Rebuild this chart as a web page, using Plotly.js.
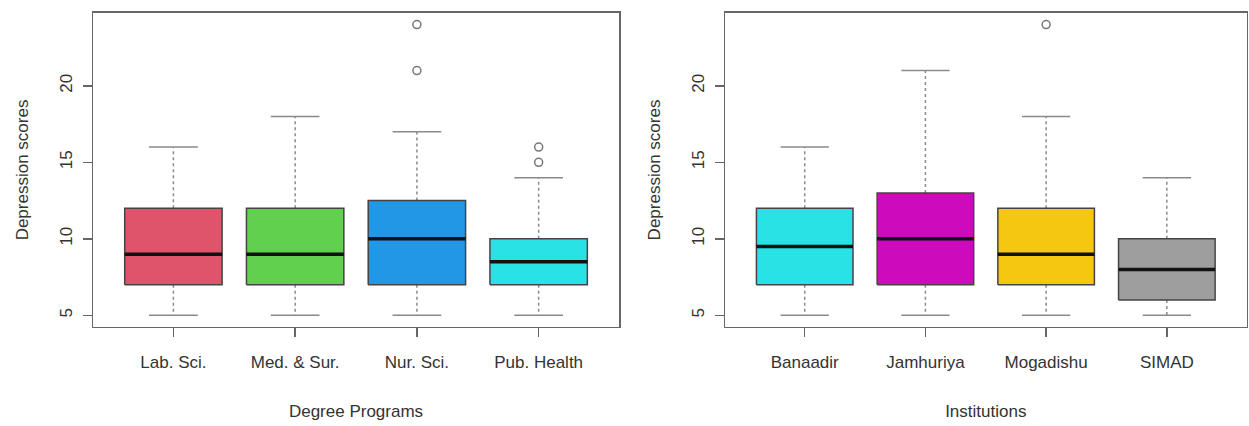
<!DOCTYPE html>
<html>
<head>
<meta charset="utf-8">
<script src="https://cdn.plot.ly/plotly-3.0.1.min.js"></script>
<style>html,body{margin:0;padding:0;background:#fff}#chart{width:1249px;height:426px}</style>
</head>
<body>
<div id="chart"></div>
<script>
// Left panel: Degree Programs
const programs = ["Lab. Sci.", "Med. & Sur.", "Nur. Sci.", "Pub. Health"];
const progMin = [5, 5, 5, 5];
const progQ1 = [7, 7, 7, 7];
const progMedian = [9, 9, 10, 8.5];
const progQ3 = [12, 12, 12.5, 10];
const progMax = [16, 18, 17, 14];
const progOutliers = [[], [], [21, 24], [15, 16]];
const progColors = ["#DF536B", "#61D04F", "#2297E6", "#28E2E5"];

// Right panel: Institutions
const institutions = ["Banaadir", "Jamhuriya", "Mogadishu", "SIMAD"];
const instMin = [5, 5, 5, 5];
const instQ1 = [7, 7, 7, 6];
const instMedian = [9.5, 10, 9, 8];
const instQ3 = [12, 13, 12, 10];
const instMax = [16, 21, 18, 14];
const instOutliers = [[], [], [24], []];
const instColors = ["#28E2E5", "#CD0BBC", "#F5C710", "#9E9E9E"];

const yTicks = [5, 10, 15, 20];

const HALF = 0.4, CAP = 0.2;
const traces = [];
function addBoxes(cats, mn, q1, md, q3, mx, outs, cols, xa, ya) {
  cats.forEach((c, k) => {
    const i = k + 1;
    // whiskers (dashed)
    traces.push({type: "scatter", mode: "lines", xaxis: xa, yaxis: ya, showlegend: false, hoverinfo: "skip",
      x: [i, i, null, i, i], y: [q3[k], mx[k], null, q1[k], mn[k]],
      line: {color: "#8a8a8a", width: 1.5, dash: "3px,3px"}});
    // caps
    traces.push({type: "scatter", mode: "lines", xaxis: xa, yaxis: ya, showlegend: false, hoverinfo: "skip",
      x: [i - CAP, i + CAP, null, i - CAP, i + CAP], y: [mx[k], mx[k], null, mn[k], mn[k]],
      line: {color: "#8a8a8a", width: 1.5}});
    // box
    traces.push({type: "scatter", mode: "lines", xaxis: xa, yaxis: ya, showlegend: false, name: c,
      x: [i - HALF, i + HALF, i + HALF, i - HALF, i - HALF], y: [q1[k], q1[k], q3[k], q3[k], q1[k]],
      fill: "toself", fillcolor: cols[k], line: {color: "#444", width: 1.5}});
    // median
    traces.push({type: "scatter", mode: "lines", xaxis: xa, yaxis: ya, showlegend: false, hoverinfo: "skip",
      x: [i - HALF, i + HALF], y: [md[k], md[k]], line: {color: "#111", width: 3.5}});
    // outliers
    if (outs[k].length) {
      traces.push({type: "scatter", mode: "markers", xaxis: xa, yaxis: ya, showlegend: false,
        x: outs[k].map(() => i), y: outs[k],
        marker: {symbol: "circle-open", size: 8, color: "#777", line: {width: 1.5}}});
    }
  });
}
addBoxes(programs, progMin, progQ1, progMedian, progQ3, progMax, progOutliers, progColors, "x", "y");
addBoxes(institutions, instMin, instQ1, instMedian, instQ3, instMax, instOutliers, instColors, "x2", "y2");

const font = {family: "Liberation Sans, Arial, sans-serif", size: 17, color: "#333"};
function xax(dom, labels, title) {
  return {domain: dom, range: [0.34, 4.66], tickmode: "array", tickvals: [1, 2, 3, 4], ticktext: labels,
    showline: true, mirror: true, linecolor: "#666", linewidth: 1.5, ticks: "outside", ticklen: 9,
    tickcolor: "#666", tickwidth: 1.5, showgrid: false, zeroline: false, tickfont: font,
    ticklabelstandoff: 10,
    title: {text: title, font: font, standoff: 34}};
}
function yax(anchor) {
  return {domain: [0.2324, 0.9695], anchor: anchor, range: [4.24, 24.76], tickmode: "array", tickvals: yTicks,
    showline: true, mirror: true, linecolor: "#666", linewidth: 1.5, ticks: "outside", ticklen: 9,
    tickcolor: "#666", tickwidth: 1.5, showgrid: false, zeroline: false, tickfont: font, tickangle: -90,
    ticklabelstandoff: 4,
    title: {text: "Depression scores", font: font, standoff: 24}};
}
const layout = {
  width: 1249, height: 426, margin: {l: 0, r: 0, t: 0, b: 0},
  paper_bgcolor: "#fff", plot_bgcolor: "#fff", font: font,
  xaxis: Object.assign(xax([0.0745, 0.4956], programs, "Degree Programs"), {anchor: "y"}),
  yaxis: yax("x"),
  xaxis2: Object.assign(xax([0.5805, 0.998], institutions, "Institutions"), {anchor: "y2"}),
  yaxis2: yax("x2")
};
Plotly.newPlot("chart", traces, layout, {staticPlot: true});
</script>
</body>
</html>
